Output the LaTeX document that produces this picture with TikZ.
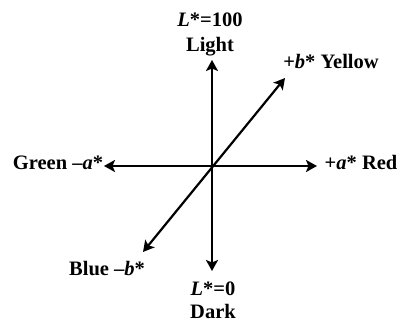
\documentclass[tikz,border=0pt]{standalone}
\usepackage{fontspec}
\setmainfont{Liberation Serif}
\usetikzlibrary{arrows.meta}
\tikzset{
  axis/.style={line width=2.2pt, {Stealth[length=11pt,width=12pt,inset=2.5pt]}-{Stealth[length=11pt,width=12pt,inset=2.5pt]}},
  lbl/.style={anchor=base, inner sep=0pt, font=\fontsize{20.5}{22}\selectfont\bfseries}
}
\begin{document}
\begin{tikzpicture}[x=1pt,y=1pt]
\useasboundingbox (0,0) rectangle (398,321);
\coordinate (top) at (212,261);
\coordinate (bot) at (212,50);
\coordinate (lft) at (104,155);
\coordinate (rgt) at (317,155);
\coordinate (ur) at (285,243);
\coordinate (ll) at (143,69);
\draw[axis] (bot) -- (top);
\draw[axis] (lft) -- (rgt);
\draw[axis] (ll) -- (ur);
\node[lbl] (l100) at (210,294) {\textit{L}*=100};
\node[lbl] (light) at (210,269) {Light};
\node[lbl] (yellow) at (331,252) {+\textit{b}* Yellow};
\node[lbl] (green) at (58,151) {Green \textendash\textit{a}*};
\node[lbl] (red) at (361,151) {+\textit{a}* Red};
\node[lbl] (blue) at (107,46) {Blue \textendash\textit{b}*};
\node[lbl] (l0) at (213,26) {\textit{L}*=0};
\node[lbl] (dark) at (213,3) {Dark};
\end{tikzpicture}
\end{document}
